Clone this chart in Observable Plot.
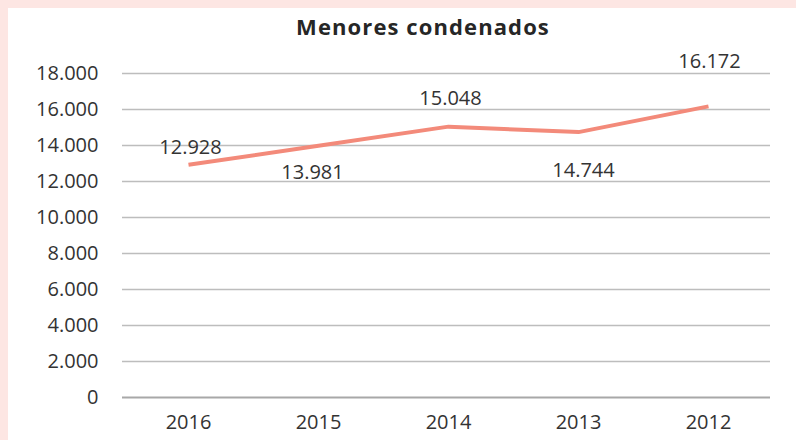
<!DOCTYPE html>
<html>
<head>
<meta charset="utf-8">
<script src="https://cdn.jsdelivr.net/npm/d3@7"></script>
<script src="https://cdn.jsdelivr.net/npm/@observablehq/plot@0.6"></script>
<style>
  html, body { margin: 0; padding: 0; }
  body { width: 796px; height: 440px; background: #fde6e3; position: relative; overflow: hidden; }
  #card { position: absolute; left: 8px; top: 8px; width: 788px; height: 432px; background: #ffffff; }
  #title { position: absolute; left: 0; width: 830px; top: 3px; text-align: center;
    font-family: "Open Sans", sans-serif; font-weight: 700; font-size: 22px; color: #262626; letter-spacing: 1.1px; }
  #chart { position: absolute; left: 0; top: 36px; }
</style>
</head>
<body>
<div id="card">
  <div id="title">Menores condenados</div>
  <div id="chart"></div>
</div>
<script>
const years = ["2016", "2015", "2014", "2013", "2012"];
const values = [12928, 13981, 15048, 14744, 16172];
const yTicks = [0, 2000, 4000, 6000, 8000, 10000, 12000, 14000, 16000, 18000];

// label placement (layout only)
const labelDy = [-17, 27, -28, 38, -45];
const labelDx = [2, -6, 2, 5, 1];

const data = years.map((y, i) => ({year: y, value: values[i], dy: labelDy[i], dx: labelDx[i]}));
const loc = d3.formatLocale({decimal: ",", thousands: ".", grouping: [3], currency: ["", ""]});
const fmt = loc.format(",d");

const font = '"Open Sans", sans-serif';
const plot = Plot.plot({
  width: 788,
  height: 396,
  marginLeft: 114,
  marginRight: 26,
  marginTop: 29,
  marginBottom: 43,
  style: {fontFamily: font, fontSize: "20px", color: "#333333", background: "transparent", overflow: "visible"},
  x: {type: "point", domain: years, padding: 0.46, insetLeft: 4, label: null},
  y: {domain: [0, 18000], ticks: yTicks, label: null},
  marks: [
    Plot.gridY(yTicks.filter(t => t > 0), {stroke: "#bdbdbd", strokeOpacity: 1, strokeWidth: 1.3}),
    Plot.ruleY([0], {stroke: "#a8a8a8", strokeWidth: 2}),
    Plot.axisY({ticks: yTicks, tickSize: 0, tickPadding: 24, tickFormat: fmt, fontSize: 20, fill: "#333333"}),
    Plot.axisX({tickSize: 0, tickPadding: 17, fontSize: 20, fill: "#333333"}),
    Plot.lineY(data, {x: "year", y: "value", stroke: "#f38a7a", strokeWidth: 4, strokeLinecap: "butt"}),
    ...data.map(d => Plot.text([d], {x: "year", y: "value", text: v => fmt(v.value), dy: d.dy, dx: d.dx,
      fontSize: 20, fill: "#333333"}))
  ]
});
document.getElementById("chart").appendChild(plot);
</script>
</body>
</html>
